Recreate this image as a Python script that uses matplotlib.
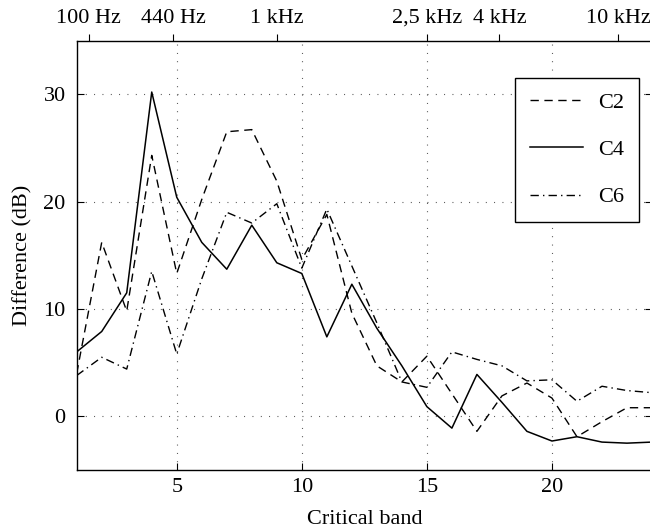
import matplotlib
matplotlib.use("Agg")
import matplotlib.pyplot as plt
import numpy as np

# ---- data ----
bands = list(range(1, 25))
c2 = [4.0, 16.2, 9.8, 24.3, 13.3, 20.2, 26.5, 26.7, 21.9, 14.6, 18.8, 9.6,
      4.7, 3.2, 5.6, 2.1, -1.4, 1.9, 3.1, 1.7, -1.9, -0.5, 0.8, 0.8]
c4 = [6.0, 7.9, 11.5, 30.2, 20.4, 16.2, 13.7, 17.8, 14.3, 13.3, 7.4, 12.3,
      8.2, 4.7, 0.9, -1.1, 3.9, 1.3, -1.4, -2.3, -1.9, -2.4, -2.5, -2.4]
c6 = [3.8, 5.5, 4.4, 13.5, 5.8, 12.8, 19.0, 18.0, 19.8, 13.8, 19.3, 14.0,
      8.7, 3.2, 2.7, 6.0, 5.3, 4.7, 3.3, 3.4, 1.4, 2.8, 2.4, 2.2]
series_labels = ["C2", "C4", "C6"]
x_ticks = [5, 10, 15, 20]
y_ticks = [0, 10, 20, 30]
freq_pos = [1.48, 4.85, 9.0, 15.0, 17.9, 22.65]
freq_labels = ["100 Hz", "440 Hz", "1 kHz", "2,5 kHz", "4 kHz", "10 kHz"]

plt.rcParams['font.family'] = ['Liberation Serif', 'DejaVu Serif']
FS = 16

fig = plt.figure(figsize=(6.5, 5.32), dpi=100)
L, R, B, T = 76.7, 652.0, 470.0, 40.5
ax = fig.add_axes([L / 650, 1 - B / 532, (R - L) / 650, (B - T) / 532])

ax.plot(bands, c2, color='black', lw=1.0, linestyle=(0, (6, 4)), label=series_labels[0])
ax.plot(bands, c4, color='black', lw=1.1, linestyle='-', label=series_labels[1])
ax.plot(bands, c6, color='black', lw=1.0, linestyle=(0, (6, 3, 1, 3)), label=series_labels[2])

ax.set_xlim(1, 24)
ax.set_ylim(-5, 35)
ax.set_xticks(x_ticks)
ax.set_yticks(y_ticks)
ax.grid(True, color='0.25', linestyle=(0, (0.8, 6.7)), linewidth=0.8)
ax.tick_params(direction='in', length=5, width=0.8, top=True, right=True,
               labelsize=FS, colors='black')
ax.tick_params(axis='y', pad=8)
ax.tick_params(axis='x', pad=6)
for s in ax.spines.values():
    s.set_linewidth(1.0)
    s.set_color('black')

ax.set_xlabel("Critical band", fontsize=FS, labelpad=9)
ax.set_ylabel("Difference (dB)", fontsize=FS, labelpad=8)

leg = ax.legend(loc='upper right', bbox_to_anchor=(639 / 650, 1 - 78 / 532),
                bbox_transform=fig.transFigure, fontsize=FS, frameon=True,
                fancybox=False, edgecolor='black', framealpha=1,
                handlelength=2.4, handletextpad=0.7, labelspacing=1.2,
                borderpad=0.65, borderaxespad=0)
leg.get_frame().set_linewidth(1.0)

ax2 = ax.twiny()
ax2.set_xlim(ax.get_xlim())
ax2.set_xticks(freq_pos)
ax2.set_xticklabels(freq_labels)
ax2.tick_params(axis='x', direction='out', length=5, width=0.8, labelsize=FS, pad=4)
for s in ax2.spines.values():
    s.set_visible(False)

fig.savefig("out.png", dpi=100)
